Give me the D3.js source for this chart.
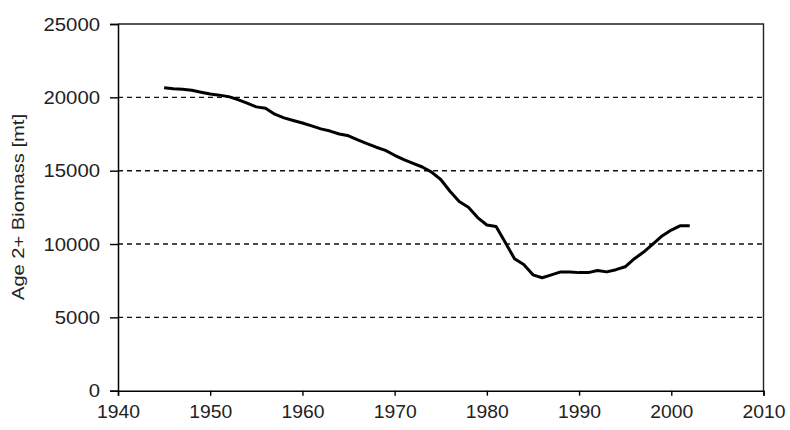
<!DOCTYPE html>
<html>
<head>
<meta charset="utf-8">
<script src="https://cdn.jsdelivr.net/npm/d3@7"></script>
<style>
  html, body { margin: 0; padding: 0; background: #fff; }
  svg { display: block; }
  text { font-family: "Liberation Sans", Arial, sans-serif; fill: #222; }
</style>
</head>
<body>
<svg id="chart" width="790" height="430"></svg>
<script>
// Data
const years = [1945,1946,1947,1948,1949,1950,1951,1952,1953,1954,1955,1956,1957,1958,1959,
  1960,1961,1962,1963,1964,1965,1966,1967,1968,1969,1970,1971,1972,1973,1974,1975,1976,1977,
  1978,1979,1980,1981,1982,1983,1984,1985,1986,1987,1988,1989,1990,1991,1992,1993,1994,1995,
  1996,1997,1998,1999,2000,2001,2002];
const biomass = [20650,20580,20550,20480,20350,20230,20150,20050,19850,19600,19350,19250,18850,18600,18420,
  18250,18050,17850,17700,17500,17380,17100,16850,16600,16380,16050,15750,15500,15250,14900,14400,13600,12900,
  12500,11800,11300,11200,10100,9000,8600,7900,7700,7900,8100,8100,8050,8050,8200,8100,8250,8450,
  9000,9450,10000,10550,10950,11250,11250];
const xTicks = [1940,1950,1960,1970,1980,1990,2000,2010];
const yTicks = [0,5000,10000,15000,20000,25000];
const gridValues = [5000,10000,15000,20000];
const yTitle = "Age 2+ Biomass [mt]";

(function () {
const svg = d3.select("#chart");
const mLeft = 118, mRight = 763.5, mTop = 24, mBottom = 390.7;

const x = d3.scaleLinear().domain([1940, 2010]).range([mLeft, mRight]);
const y = d3.scaleLinear().domain([0, 25000]).range([mBottom, mTop]);

// gridlines
svg.append("g").selectAll("line").data(gridValues).join("line")
  .attr("x1", mLeft).attr("x2", mRight)
  .attr("y1", d => y(d)).attr("y2", d => y(d))
  .attr("stroke", "#111").attr("stroke-width", 1.4)
  .attr("stroke-dasharray", "5,4");

// plot border top & right
svg.append("path")
  .attr("d", `M${mLeft},${mTop}H${mRight}V${mBottom}`)
  .attr("fill", "none").attr("stroke", "#222").attr("stroke-width", 1.4);

// Y axis
const yAxis = svg.append("g").attr("transform", `translate(${mLeft},0)`)
  .call(d3.axisLeft(y).tickValues(yTicks).tickSize(8).tickPadding(10).tickFormat(d3.format("d")));
yAxis.select(".domain").attr("stroke", "#000").attr("stroke-width", 1.5);
yAxis.selectAll(".tick line").attr("stroke", "#000").attr("stroke-width", 1.4);
yAxis.selectAll("text").attr("font-size", 19).attr("fill", "#222")
  .attr("font-family", "'Liberation Sans', Arial, sans-serif")
  .attr("textLength", d => String(d).length * 11.3).attr("lengthAdjust", "spacingAndGlyphs");

// X axis
const xAxis = svg.append("g").attr("transform", `translate(0,${mBottom})`)
  .call(d3.axisBottom(x).tickValues(xTicks).tickSize(5).tickPadding(9).tickFormat(d3.format("d")));
xAxis.select(".domain").attr("stroke", "#000").attr("stroke-width", 1.5);
xAxis.selectAll(".tick line").attr("stroke", "#000").attr("stroke-width", 1.4);
xAxis.selectAll("text").attr("font-size", 19).attr("fill", "#222")
  .attr("font-family", "'Liberation Sans', Arial, sans-serif")
  .attr("textLength", 43).attr("lengthAdjust", "spacingAndGlyphs");

// Y title
svg.append("text")
  .attr("transform", `translate(24,207) rotate(-90)`)
  .attr("text-anchor", "middle")
  .attr("font-size", 17)
  .attr("fill", "#444")
  .attr("textLength", 186).attr("lengthAdjust", "spacingAndGlyphs")
  .text(yTitle);

// Line
const data = years.map((yr, i) => ({ yr, v: biomass[i] }));
svg.append("path").datum(data)
  .attr("fill", "none").attr("stroke", "#000").attr("stroke-width", 3)
  .attr("stroke-linejoin", "round")
  .attr("d", d3.line().x(d => x(d.yr)).y(d => y(d.v)));
})();
</script>
</body>
</html>
